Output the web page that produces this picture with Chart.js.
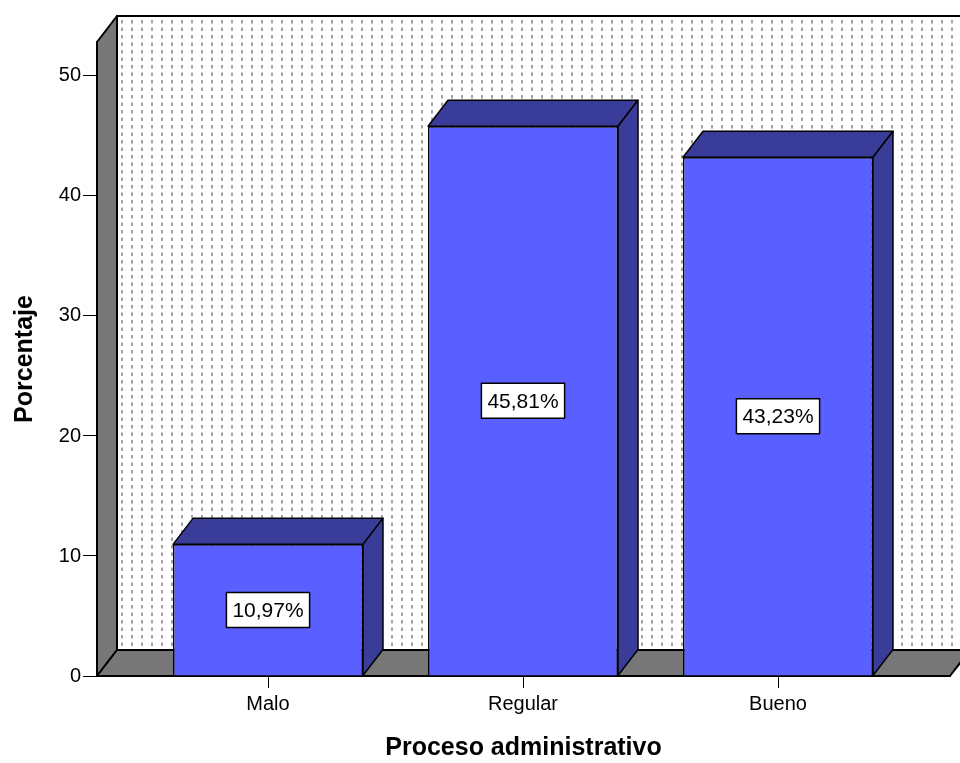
<!DOCTYPE html>
<html>
<head>
<meta charset="utf-8">
<script src="https://cdn.jsdelivr.net/npm/chart.js@4/dist/chart.umd.min.js"></script>
<style>
  html, body { margin: 0; padding: 0; background: #fff; }
  canvas { display: block; }
</style>
</head>
<body>
<canvas id="chart" width="960" height="763"></canvas>
<script>
// Percentage of responses per rating of the administrative process
const categories = ['Malo', 'Regular', 'Bueno'];
const percentages = [10.97, 45.81, 43.23];
const yTicks = [0, 10, 20, 30, 40, 50];

const FONT = '"Liberation Sans", Arial, Helvetica, sans-serif';
const DEPTH = { dx: 20, dy: -26 };          // 3D offset of the back plane
const FRONT = '#5a5fff';
const SHADE = '#393d99';
const WALL = '#777777';

const pct = v => v.toFixed(2).replace('.', ',') + '%';

// Back wall, left wall and floor of the 3D box, painted before the axes
const room = {
  id: 'room',
  beforeDraw(chart) {
    const { ctx, chartArea: a } = chart;
    const { dx, dy } = DEPTH;
    const w = a.right - a.left, h = a.bottom - a.top;
    ctx.save();

    // back wall with dotted vertical hatching
    ctx.fillStyle = '#ffffff';
    ctx.fillRect(a.left + dx, a.top + dy, w, h);
    ctx.save();
    ctx.beginPath();
    ctx.rect(a.left + dx, a.top + dy, w, h);
    ctx.clip();
    ctx.strokeStyle = '#a3a3a3';
    ctx.lineWidth = 2;
    ctx.setLineDash([3.5, 4]);
    for (let x = a.left + dx + 5; x < a.right + dx; x += 10) {
      ctx.beginPath();
      ctx.moveTo(x, a.top + dy + 4);
      ctx.lineTo(x, a.bottom + dy);
      ctx.stroke();
    }
    ctx.restore();

    ctx.strokeStyle = '#000';
    ctx.lineWidth = 2;
    ctx.lineJoin = 'round';
    ctx.beginPath();
    ctx.moveTo(a.left + dx, a.bottom + dy);
    ctx.lineTo(a.left + dx, a.top + dy);
    ctx.lineTo(a.right + dx, a.top + dy);
    ctx.stroke();

    // left side wall
    ctx.fillStyle = WALL;
    ctx.beginPath();
    ctx.moveTo(a.left, a.bottom);
    ctx.lineTo(a.left, a.top);
    ctx.lineTo(a.left + dx, a.top + dy);
    ctx.lineTo(a.left + dx, a.bottom + dy);
    ctx.closePath();
    ctx.fill();
    ctx.stroke();

    // floor
    ctx.beginPath();
    ctx.moveTo(a.left, a.bottom);
    ctx.lineTo(a.right, a.bottom);
    ctx.lineTo(a.right + dx, a.bottom + dy);
    ctx.lineTo(a.left + dx, a.bottom + dy);
    ctx.closePath();
    ctx.fill();
    ctx.stroke();

    ctx.restore();
  }
};

// Top and side faces of each bar, then the boxed value label
const bars3d = {
  id: 'bars3d',
  afterDatasetsDraw(chart) {
    const { ctx } = chart;
    const { dx, dy } = DEPTH;
    const meta = chart.getDatasetMeta(0);
    ctx.save();
    ctx.lineJoin = 'round';
    meta.data.forEach((bar, i) => {
      const { x, y, base, width } = bar.getProps(['x', 'y', 'base', 'width'], true);
      const l = x - width / 2, r = x + width / 2;
      ctx.fillStyle = SHADE;
      ctx.strokeStyle = '#000';
      ctx.lineWidth = 1.5;
      // top
      ctx.beginPath();
      ctx.moveTo(l, y);
      ctx.lineTo(l + dx, y + dy);
      ctx.lineTo(r + dx, y + dy);
      ctx.lineTo(r, y);
      ctx.closePath();
      ctx.fill();
      ctx.stroke();
      // right side
      ctx.beginPath();
      ctx.moveTo(r, y);
      ctx.lineTo(r + dx, y + dy);
      ctx.lineTo(r + dx, base + dy);
      ctx.lineTo(r, base);
      ctx.closePath();
      ctx.fill();
      ctx.stroke();

      // value label
      const text = pct(percentages[i]);
      ctx.font = '21px ' + FONT;
      const tw = ctx.measureText(text).width;
      const bw = tw + 12, bh = 35;
      const cy = (y + base) / 2;
      ctx.fillStyle = '#fff';
      ctx.fillRect(x - bw / 2, cy - bh / 2, bw, bh);
      ctx.lineWidth = 1.5;
      ctx.strokeRect(x - bw / 2, cy - bh / 2, bw, bh);
      ctx.fillStyle = '#000';
      ctx.textAlign = 'center';
      ctx.textBaseline = 'middle';
      ctx.fillText(text, x, cy + 1);
    });
    ctx.restore();
  }
};

new Chart(document.getElementById('chart'), {
  type: 'bar',
  data: {
    datasets: [{
      data: percentages.map((v, i) => ({ x: i, y: v })),
      backgroundColor: FRONT,
      borderColor: '#000',
      borderWidth: 1.5,
      barPercentage: 0.745,
      categoryPercentage: 1
    }]
  },
  options: {
    responsive: false,
    animation: false,
    devicePixelRatio: 1,
    layout: { padding: { left: 0, right: 10, top: 42, bottom: 0 } },
    plugins: { legend: { display: false }, tooltip: { enabled: false } },
    scales: {
      x: {
        type: 'linear',
        offset: false,
        min: -0.6706,
        max: 2.6745,
        afterBuildTicks: s => { s.ticks = categories.map((_, i) => ({ value: i })); },
        afterFit: s => { s.height = 87; },
        grid: { offset: false, drawOnChartArea: false, drawTicks: true, tickLength: 12, color: '#000', lineWidth: 1 },
        border: { display: true, color: '#000', width: 1.5 },
        ticks: {
          callback: v => categories[v] ?? '',
          color: '#000',
          font: { family: FONT, size: 20 },
          padding: 4,
          maxRotation: 0,
          autoSkip: false
        },
        title: {
          display: true,
          text: 'Proceso administrativo',
          color: '#000',
          font: { family: FONT, size: 25, weight: 'bold' },
          padding: 0
        }
      },
      y: {
        min: 0,
        max: 52.83,
        afterBuildTicks: s => { s.ticks = yTicks.map(v => ({ value: v })); },
        afterFit: s => { s.width = 97; },
        grid: { drawOnChartArea: false, drawTicks: true, tickLength: 14, color: '#000', lineWidth: 1 },
        border: { display: true, color: '#000', width: 1.5 },
        ticks: { color: '#000', font: { family: FONT, size: 20 }, padding: 2 },
        title: {
          display: true,
          text: 'Porcentaje',
          color: '#000',
          font: { family: FONT, size: 25, weight: 'bold' },
          padding: { top: 10, bottom: 0 }
        }
      }
    }
  },
  plugins: [room, bars3d]
});
</script>
</body>
</html>
